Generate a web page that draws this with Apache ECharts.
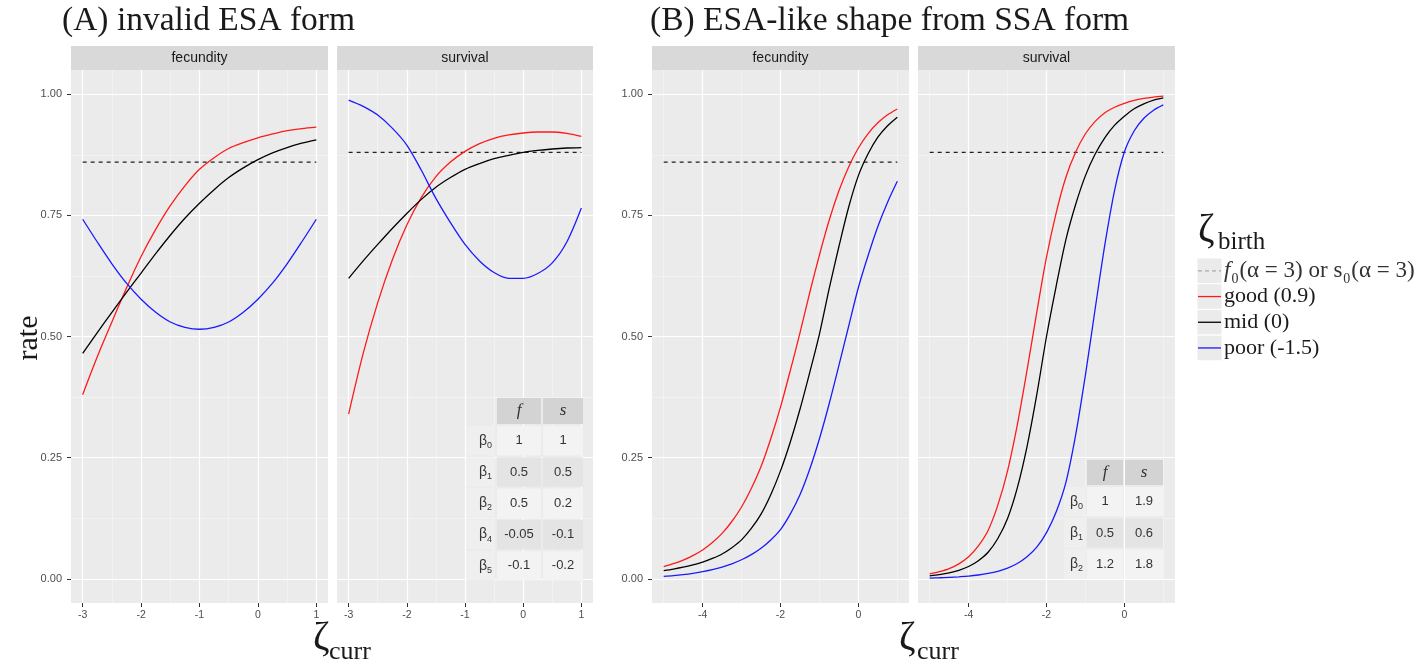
<!DOCTYPE html>
<html><head><meta charset="utf-8">
<script src="https://cdn.jsdelivr.net/npm/echarts@6/dist/echarts.min.js"></script>
<style>html,body{margin:0;padding:0;background:#fff}#c{width:1425px;height:672px}</style>
</head><body><div id="c"></div>
<script>
// ---------------- data ----------------
const panelTitles = ['(A) invalid ESA form', '(B) ESA-like shape from SSA form'];
const facetNames = ['fecundity', 'survival'];
const legendLabels = ['good (0.9)', 'mid (0)', 'poor (-1.5)'];
const yTicks = [0, 0.25, 0.5, 0.75, 1];
const yMinor = [0.125, 0.375, 0.625, 0.875];
const xTicksA = [-3, -2, -1, 0, 1];
const xMinorA = [-2.5, -1.5, -0.5, 0.5];
const xTicksB = [-4, -2, 0];
const xMinorB = [-5, -3, -1, 1];

const xA = [-3, -2.75, -2.5, -2.25, -2, -1.75, -1.5, -1.25, -1, -0.75, -0.5, -0.25, 0, 0.25, 0.5, 0.75, 1];
const fecA_good = [0.380, 0.458, 0.530, 0.600, 0.665, 0.721, 0.770, 0.811, 0.845, 0.869, 0.888, 0.900, 0.910, 0.918, 0.925, 0.929, 0.932];
const fecA_mid  = [0.465, 0.508, 0.550, 0.591, 0.631, 0.671, 0.709, 0.744, 0.775, 0.803, 0.828, 0.848, 0.865, 0.879, 0.890, 0.899, 0.906];
const fecA_poor = [0.742, 0.695, 0.650, 0.610, 0.577, 0.550, 0.530, 0.519, 0.515, 0.519, 0.530, 0.550, 0.577, 0.610, 0.650, 0.695, 0.742];
const survA_good = [0.340, 0.465, 0.570, 0.658, 0.730, 0.787, 0.830, 0.860, 0.882, 0.898, 0.909, 0.916, 0.920, 0.922, 0.922, 0.919, 0.913];
const survA_mid  = [0.620, 0.656, 0.690, 0.723, 0.754, 0.783, 0.808, 0.828, 0.845, 0.857, 0.867, 0.874, 0.880, 0.884, 0.887, 0.889, 0.890];
const survA_poor = [0.988, 0.975, 0.957, 0.930, 0.895, 0.843, 0.785, 0.735, 0.690, 0.656, 0.632, 0.620, 0.620, 0.630, 0.652, 0.695, 0.765];

const xB = [-5, -4.75, -4.5, -4.25, -4, -3.75, -3.5, -3.25, -3, -2.75, -2.5, -2.25, -2, -1.75, -1.5, -1.25, -1, -0.75, -0.5, -0.25, 0, 0.25, 0.5, 0.75, 1];
const fecB_good = [0.0251, 0.0311, 0.0384, 0.0479, 0.0595, 0.0748, 0.0936, 0.1182, 0.1481, 0.1862, 0.2315, 0.2891, 0.3543, 0.4292, 0.5075, 0.5903, 0.6682, 0.7398, 0.8006, 0.8500, 0.8890, 0.9187, 0.9410, 0.9575, 0.9696];
const fecB_mid  = [0.0169, 0.0201, 0.0239, 0.0286, 0.0342, 0.0419, 0.0512, 0.0641, 0.0802, 0.1038, 0.1335, 0.1736, 0.2227, 0.2819, 0.3498, 0.4256, 0.5050, 0.5987, 0.6857, 0.7668, 0.8320, 0.8770, 0.9113, 0.9349, 0.9526];
const fecB_poor = [0.0050, 0.0065, 0.0086, 0.0113, 0.0148, 0.0189, 0.0242, 0.0308, 0.0392, 0.0498, 0.0630, 0.0802, 0.1016, 0.1335, 0.1736, 0.2262, 0.2891, 0.3612, 0.4403, 0.5212, 0.6011, 0.6671, 0.7271, 0.7773, 0.8205];
const survB_good = [0.0099, 0.0145, 0.0208, 0.0308, 0.0453, 0.0679, 0.0998, 0.1519, 0.2227, 0.3176, 0.4305, 0.5498, 0.6637, 0.7558, 0.8292, 0.8808, 0.9184, 0.9440, 0.9619, 0.9731, 0.9811, 0.9873, 0.9914, 0.9942, 0.9961];
const survB_mid  = [0.0061, 0.0086, 0.0121, 0.0175, 0.0253, 0.0373, 0.0547, 0.0832, 0.1245, 0.1877, 0.2729, 0.3799, 0.5000, 0.6047, 0.7006, 0.7729, 0.8320, 0.8765, 0.9105, 0.9362, 0.9548, 0.9700, 0.9802, 0.9879, 0.9926];
const survB_poor = [0.0015, 0.0021, 0.0030, 0.0041, 0.0055, 0.0078, 0.0110, 0.0155, 0.0219, 0.0314, 0.0453, 0.0652, 0.0953, 0.1383, 0.1994, 0.2974, 0.4207, 0.5573, 0.6900, 0.8022, 0.8808, 0.9241, 0.9503, 0.9671, 0.9781];

const refFec = 0.86, refSurv = 0.88;

const tableA_rows = ['0', '1', '2', '4', '5'];
const tableA_f = ['1', '0.5', '0.5', '-0.05', '-0.1'];
const tableA_s = ['1', '0.5', '0.2', '-0.1', '-0.2'];
const tableB_rows = ['0', '1', '2'];
const tableB_f = ['1', '0.5', '1.2'];
const tableB_s = ['1.9', '0.6', '1.8'];

// ---------------- layout / style ----------------
const SERIF = "'Liberation Serif', 'DejaVu Serif', serif";
const SANS = "'Liberation Sans', Arial, sans-serif";
const TOP = 70, HEIGHT = 533;
const grids = [
  {left: 71, width: 257, xr: [-3.2, 1.2], ticks: xTicksA, minor: xMinorA, ylab: true},
  {left: 337, width: 256, xr: [-3.2, 1.2], ticks: xTicksA, minor: xMinorA, ylab: false},
  {left: 652, width: 257, xr: [-5.3, 1.3], ticks: xTicksB, minor: xMinorB, ylab: true},
  {left: 918, width: 257, xr: [-5.3, 1.3], ticks: xTicksB, minor: xMinorB, ylab: false}
];
const panelData = [
  {x: xA, good: fecA_good, mid: fecA_mid, poor: fecA_poor, ref: refFec},
  {x: xA, good: survA_good, mid: survA_mid, poor: survA_poor, ref: refSurv},
  {x: xB, good: fecB_good, mid: fecB_mid, poor: fecB_poor, ref: refFec},
  {x: xB, good: survB_good, mid: survB_mid, poor: survB_poor, ref: refSurv}
];
const COLORS = {good: '#FF1A1A', mid: '#000000', poor: '#1A1AFF'};

const option = {
  animation: false,
  backgroundColor: '#ffffff',
  grid: [], xAxis: [], yAxis: [], series: [], graphic: []
};

grids.forEach((g, i) => {
  option.grid.push({left: g.left, top: TOP, width: g.width, height: HEIGHT,
    show: true, backgroundColor: '#EBEBEB', borderWidth: 0, containLabel: false});
  option.xAxis.push({gridIndex: i, type: 'value', min: g.xr[0], max: g.xr[1], position: 'bottom',
    axisLine: {show: false, onZero: false},
    axisTick: {show: true, customValues: g.ticks, length: 4, lineStyle: {color: '#333333', width: 1}},
    axisLabel: {customValues: g.ticks, color: '#4D4D4D', fontSize: 10.5, fontFamily: SANS, margin: 7,
      formatter: v => String(v)},
    splitLine: {show: true, lineStyle: {color: '#FFFFFF', width: 1.2}}});
  option.xAxis.push({gridIndex: i, type: 'value', min: g.xr[0], max: g.xr[1], position: 'top',
    axisLine: {show: false, onZero: false}, axisTick: {show: false, customValues: g.minor},
    axisLabel: {show: false, customValues: g.minor},
    splitLine: {show: true, lineStyle: {color: '#F7F7F7', width: 0.6}}});
  option.yAxis.push({gridIndex: i, type: 'value', min: -0.05, max: 1.05, position: 'left',
    axisLine: {show: false, onZero: false},
    axisTick: {show: g.ylab, customValues: yTicks, length: 4, lineStyle: {color: '#333333', width: 1}},
    axisLabel: {show: g.ylab, customValues: yTicks, color: '#4D4D4D', fontSize: 11, fontFamily: SANS, margin: 9,
      formatter: v => v.toFixed(2)},
    splitLine: {show: true, lineStyle: {color: '#FFFFFF', width: 1.2}}});
  option.yAxis.push({gridIndex: i, type: 'value', min: -0.05, max: 1.05, position: 'right',
    axisLine: {show: false, onZero: false}, axisTick: {show: false, customValues: yMinor},
    axisLabel: {show: false, customValues: yMinor},
    splitLine: {show: true, lineStyle: {color: '#F7F7F7', width: 0.6}}});

  const d = panelData[i];
  const xa = 2 * i, ya = 2 * i;
  option.series.push({type: 'line', xAxisIndex: xa, yAxisIndex: ya, silent: true, showSymbol: false,
    data: [[d.x[0], d.ref], [d.x[d.x.length - 1], d.ref]],
    lineStyle: {color: '#222222', width: 1.3, type: [4, 4]}, z: 5});
  ['good', 'mid', 'poor'].forEach(k => {
    option.series.push({type: 'line', xAxisIndex: xa, yAxisIndex: ya, silent: true, showSymbol: false,
      smooth: 0.3, data: d.x.map((x, j) => [x, d[k][j]]),
      lineStyle: {color: COLORS[k], width: 1.3}, z: 6});
  });

  option.graphic.push({type: 'rect', shape: {x: g.left, y: 46, width: g.width, height: 24},
    style: {fill: '#D9D9D9'}, silent: true});
  option.graphic.push({type: 'text', x: g.left + g.width / 2, y: 58,
    style: {text: facetNames[i % 2], font: '14px ' + SANS, fill: '#1A1A1A', align: 'center', verticalAlign: 'middle'}, silent: true});
});

// titles
option.graphic.push({type: 'text', x: 62, y: 21, style: {text: panelTitles[0], font: '33.5px ' + SERIF, fill: '#1A1A1A', align: 'left', verticalAlign: 'middle'}});
option.graphic.push({type: 'text', x: 650, y: 21, style: {text: panelTitles[1], font: '33.5px ' + SERIF, fill: '#1A1A1A', align: 'left', verticalAlign: 'middle'}});

// y title
option.graphic.push({type: 'text', x: 29, y: 338, rotation: Math.PI / 2,
  style: {text: 'rate', font: '30px ' + SERIF, fill: '#1A1A1A', align: 'center', verticalAlign: 'middle'}});

// x titles
[[313, 329], [899, 917]].forEach(p => {
  option.graphic.push({type: 'text', x: p[0], y: 638, style: {text: 'ζ', font: '40px ' + SERIF, fill: '#1A1A1A', align: 'left', verticalAlign: 'middle'}});
  option.graphic.push({type: 'text', x: p[1], y: 652, style: {text: 'curr', font: '26px ' + SERIF, fill: '#1A1A1A', align: 'left', verticalAlign: 'middle'}});
});

// legend
option.graphic.push({type: 'text', x: 1198, y: 230, style: {text: 'ζ', font: '40px ' + SERIF, fill: '#1A1A1A', align: 'left', verticalAlign: 'middle'}});
option.graphic.push({type: 'text', x: 1218, y: 242, style: {text: 'birth', font: '25px ' + SERIF, fill: '#1A1A1A', align: 'left', verticalAlign: 'middle'}});
const LEG_TOP = 258, LEG_H = 25.7;
const legKeys = [{color: '#AAAAAA', dash: [4, 3]}, {color: COLORS.good}, {color: COLORS.mid}, {color: COLORS.poor}];
legKeys.forEach((k, i) => {
  const y0 = LEG_TOP + i * LEG_H;
  option.graphic.push({type: 'rect', shape: {x: 1197, y: y0, width: 25, height: LEG_H}, style: {fill: '#EBEBEB', stroke: '#FFFFFF', lineWidth: 1}});
  option.graphic.push({type: 'line', shape: {x1: 1198, y1: y0 + LEG_H / 2, x2: 1221, y2: y0 + LEG_H / 2},
    style: {stroke: k.color, lineWidth: 1.3, lineDash: k.dash || null}});
});
option.graphic.push({type: 'text', x: 1224, y: LEG_TOP + LEG_H / 2, style: {
  text: '{i|f}{s|0}{n|(α = 3) or s}{s|0}{n|(α = 3)}', fill: '#1A1A1A', align: 'left', verticalAlign: 'middle',
  rich: {i: {font: 'italic 23px ' + SERIF, fill: '#333'}, n: {font: '23px ' + SERIF, fill: '#333'},
         s: {font: '14px ' + SERIF, fill: '#333', verticalAlign: 'bottom', padding: [0, 1, -4, 1]}}}});
legendLabels.forEach((t, i) => {
  option.graphic.push({type: 'text', x: 1224, y: LEG_TOP + (i + 1) * LEG_H + LEG_H / 2,
    style: {text: t, font: '22px ' + SERIF, fill: '#1A1A1A', align: 'left', verticalAlign: 'middle'}});
});

// tables
function addTable(rows, fv, sv, cfg) {
  const g = [];
  g.push({type: 'rect', shape: {x: cfg.fx, y: cfg.hy, width: cfg.fw, height: cfg.hh}, style: {fill: '#D3D3D3'}});
  g.push({type: 'rect', shape: {x: cfg.sx, y: cfg.hy, width: cfg.sw, height: cfg.hh}, style: {fill: '#D3D3D3'}});
  g.push({type: 'text', x: cfg.fx + cfg.fw / 2, y: cfg.hy + cfg.hh / 2, style: {text: 'f', font: 'italic 17px ' + SERIF, fill: '#333', align: 'center', verticalAlign: 'middle'}});
  g.push({type: 'text', x: cfg.sx + cfg.sw / 2, y: cfg.hy + cfg.hh / 2, style: {text: 's', font: 'italic 17px ' + SERIF, fill: '#333', align: 'center', verticalAlign: 'middle'}});
  rows.forEach((r, j) => {
    const y0 = cfg.hy + cfg.hh + 2 + j * cfg.rh;
    const fill = j % 2 === 0 ? '#F3F3F3' : '#E4E4E4';
    g.push({type: 'rect', shape: {x: cfg.rx, y: y0, width: cfg.rw, height: cfg.rh - 2}, style: {fill: '#EFEFEF'}});
    g.push({type: 'rect', shape: {x: cfg.fx, y: y0, width: cfg.fw, height: cfg.rh - 2}, style: {fill: fill}});
    g.push({type: 'rect', shape: {x: cfg.sx, y: y0, width: cfg.sw, height: cfg.rh - 2}, style: {fill: fill}});
    const cy = y0 + (cfg.rh - 2) / 2;
    g.push({type: 'text', x: cfg.rx + cfg.rw - 3, y: cy, style: {text: '{b|β}{d|' + r + '}', align: 'right', verticalAlign: 'middle',
      rich: {b: {font: '14px ' + SANS, fill: '#333'}, d: {font: '9px ' + SANS, fill: '#333', verticalAlign: 'bottom', padding: [0, 0, -2, 0]}}}});
    g.push({type: 'text', x: cfg.fx + cfg.fw / 2, y: cy, style: {text: fv[j], font: '13px ' + SANS, fill: '#333', align: 'center', verticalAlign: 'middle'}});
    g.push({type: 'text', x: cfg.sx + cfg.sw / 2, y: cy, style: {text: sv[j], font: '13px ' + SANS, fill: '#333', align: 'center', verticalAlign: 'middle'}});
  });
  g.forEach(e => { e.silent = true; e.z = 2; option.graphic.push(e); });
}
addTable(tableA_rows, tableA_f, tableA_s, {rx: 466, rw: 29, fx: 497, fw: 44, sx: 543, sw: 40, hy: 398, hh: 26, rh: 31.3});
addTable(tableB_rows, tableB_f, tableB_s, {rx: 1064, rw: 22, fx: 1087, fw: 36, sx: 1125, sw: 38, hy: 460, hh: 25, rh: 31.3});

const chart = echarts.init(document.getElementById('c'), null, {renderer: 'canvas'});
chart.setOption(option);
</script></body></html>
